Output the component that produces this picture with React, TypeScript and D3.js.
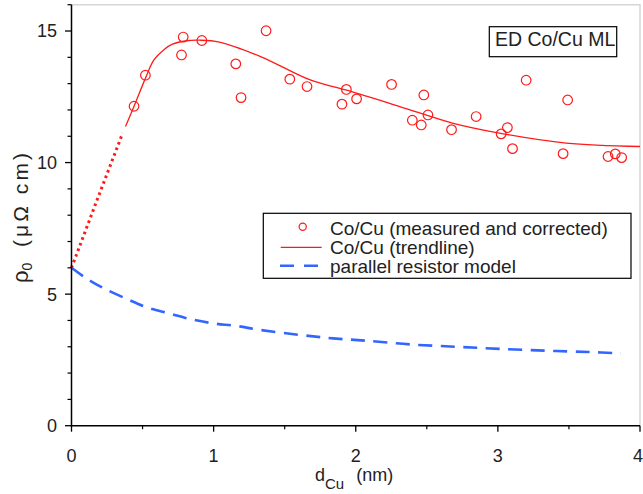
import React from 'react';
import * as d3 from 'd3';

// measured and corrected points (d_Cu in nm, rho_0 in µΩ cm)
const measX = [0.44, 0.52, 0.786, 0.774, 0.917, 1.156, 1.193, 1.369, 1.536, 1.657, 1.903, 1.934, 2.006, 2.252, 2.398, 2.461, 2.479, 2.508, 2.674, 2.847, 3.023, 3.067, 3.103, 3.199, 3.459, 3.491, 3.775, 3.826, 3.871];
const measY = [12.14, 13.32, 14.77, 14.09, 14.64, 13.75, 12.47, 15.01, 13.17, 12.89, 12.22, 12.78, 12.42, 12.97, 11.61, 11.43, 12.57, 11.81, 11.25, 11.75, 11.09, 11.33, 10.53, 13.13, 10.34, 12.38, 10.23, 10.33, 10.19];

// trendline
const trendX = [0.38, 0.44, 0.52, 0.58, 0.65, 0.71, 0.81, 0.9, 1.04, 1.33, 1.68, 1.93, 2.31, 2.68, 3.01, 3.48, 4.0];
const trendY = [11.37, 12.14, 13.2, 13.9, 14.29, 14.5, 14.63, 14.65, 14.58, 14.03, 13.14, 12.76, 12.13, 11.5, 11.12, 10.74, 10.61];

// dotted extrapolation towards d_Cu = 0
const extraX = [0, 0.18, 0.36];
const extraY = [6.0, 8.58, 11.12];

// parallel resistor model
const modelX = [0, 0.095, 0.153, 0.235, 0.388, 0.528, 0.692, 0.845, 0.997, 1.161, 1.325, 1.606, 1.84, 2.074, 2.379, 2.707, 3.011, 3.339, 3.644, 3.866];
const modelY = [6.0, 5.63, 5.44, 5.2, 4.82, 4.5, 4.26, 4.04, 3.89, 3.79, 3.64, 3.45, 3.32, 3.23, 3.09, 3.0, 2.92, 2.85, 2.8, 2.75];

const xTicks = [0, 1, 2, 3, 4];
const yTicks = [0, 5, 10, 15];
const legendLabels = ['Co/Cu (measured and corrected)', 'Co/Cu (trendline)', 'parallel resistor model'];

const W = 643, H = 494;
const font = '"Liberation Sans", Arial, sans-serif';
const txt = '#222';

export default function App() {
  const x = d3.scaleLinear().domain([0, 4]).range([71.5, 640]);
  const y = d3.scaleLinear().domain([0, 16]).range([425.7, 4.7]);

  const line = d3.line<[number, number]>().x(d => x(d[0])).y(d => y(d[1]));
  const smooth = d3.line<[number, number]>().x(d => x(d[0])).y(d => y(d[1])).curve(d3.curveCatmullRom);

  const zip = (a: number[], b: number[]) => a.map((v, i) => [v, b[i]] as [number, number]);

  const xMinor = d3.range(0.5, 4, 1);
  const yMinor = d3.range(0, 16.01, 1).filter(v => v % 5 !== 0);

  const [x0, x1] = x.range();
  const [y0, y1] = y.range();

  return (
    <svg width={W} height={H} style={{ position: 'absolute', left: 0, top: 0, background: '#fff' }} fontFamily={font}>
      {/* light frame top / right */}
      <path d={`M${x0},${y1}H${x1}V${y0}`} fill="none" stroke="#d6d6d6" strokeWidth={1.5} />

      {/* series */}
      <path d={line(zip(extraX, extraY)) || ''} fill="none" stroke="#ff1a1a" strokeWidth={3} strokeDasharray="2.6,3.4" />
      <path d={smooth(zip(trendX, trendY)) || ''} fill="none" stroke="#ff1a1a" strokeWidth={1.3} />
      <path d={smooth(zip(modelX, modelY)) || ''} fill="none" stroke="#3366ff" strokeWidth={2.6} strokeDasharray="14,8.5" />
      {measX.map((v, i) => (
        <circle key={i} cx={x(v)} cy={y(measY[i])} r={4.8} fill="none" stroke="#ff1a1a" strokeWidth={1.2} />
      ))}

      {/* axes */}
      <line x1={x0} x2={x0} y1={y1} y2={y0 + 0.8} stroke="#000" strokeWidth={1.5} />
      <line x1={x0 - 0.8} x2={x1} y1={y0} y2={y0} stroke="#000" strokeWidth={1.5} />
      {yTicks.map(t => (
        <g key={'y' + t}>
          <line x1={x0 - 6.5} x2={x0} y1={y(t)} y2={y(t)} stroke="#000" strokeWidth={1.3} />
          <text x={57} y={y(t)} dy="0.36em" textAnchor="end" fontSize={18} fill={txt}>{t}</text>
        </g>
      ))}
      {yMinor.map(t => (
        <line key={'ym' + t} x1={x0 - 4} x2={x0} y1={y(t)} y2={y(t)} stroke="#000" strokeWidth={1.2} />
      ))}
      {xTicks.map(t => (
        <g key={'x' + t}>
          <line x1={x(t)} x2={x(t)} y1={y0} y2={y0 + 6} stroke="#000" strokeWidth={1.3} />
          <text x={t === 4 ? 643 : x(t)} y={462} textAnchor={t === 4 ? 'end' : 'middle'} fontSize={18} fill={txt}>{t}</text>
        </g>
      ))}
      {xMinor.map(t => (
        <line key={'xm' + t} x1={x(t)} x2={x(t)} y1={y0} y2={y0 + 3.5} stroke="#000" strokeWidth={1.2} />
      ))}

      {/* axis labels */}
      <text x={315} y={481} fontSize={18} fill={txt}>
        d<tspan fontSize={15} dy={8}>Cu</tspan><tspan dy={-8} dx={12}>(nm)</tspan>
      </text>
      <g transform="translate(28,283) rotate(-90)">
        <text x={0} y={0} fontSize={22} fill={txt}>
          ρ<tspan fontSize={14} dy={4}>0</tspan>
        </text>
        <text x={36} y={0} fontSize={21} fill={txt} textLength={94} lengthAdjust="spacing">(μΩ cm)</text>
      </g>

      {/* annotation box */}
      <rect x={489.3} y={26.7} width={127.4} height={30} fill="#fff" stroke="#000" strokeWidth={1.2} />
      <text x={495} y={45.5} fontSize={19.5} fill={txt}>ED Co/Cu ML</text>

      {/* legend */}
      <rect x={263.3} y={213.3} width={367.7} height={65} fill="#fff" stroke="#000" strokeWidth={1.2} />
      <circle cx={302.7} cy={226.7} r={3.6} fill="none" stroke="#ff1a1a" strokeWidth={1.2} />
      <line x1={280.7} x2={321.7} y1={247.3} y2={247.3} stroke="#ff1a1a" strokeWidth={1.3} />
      <line x1={280} x2={318} y1={265.7} y2={265.7} stroke="#3366ff" strokeWidth={2.6} strokeDasharray="14,10" />
      {legendLabels.map((l, i) => (
        <text key={l} x={330} y={235 + i * 19} fontSize={19} fill={txt}>{l}</text>
      ))}
    </svg>
  );
}
